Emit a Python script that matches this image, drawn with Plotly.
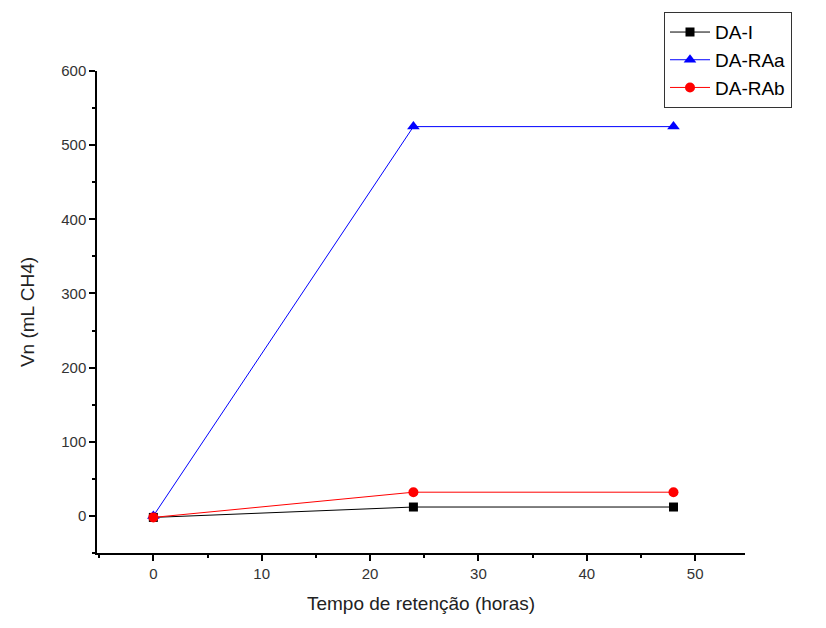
import plotly.graph_objects as go

tempo = [0, 24, 48]
da_i = [-2, 12, 12]
da_raa = [0, 525, 525]
da_rab = [-2, 32, 32]

fig = go.Figure()
fig.add_trace(go.Scatter(x=tempo, y=da_i, name="DA-I", mode="lines+markers",
                         line=dict(color="black", width=1),
                         marker=dict(symbol="square", size=9, color="black")))
fig.add_trace(go.Scatter(x=tempo, y=da_raa, name="DA-RAa", mode="lines+markers",
                         line=dict(color="blue", width=1),
                         marker=dict(symbol="triangle-up", size=11, color="blue")))
fig.add_trace(go.Scatter(x=tempo, y=da_rab, name="DA-RAb", mode="lines+markers",
                         line=dict(color="red", width=1),
                         marker=dict(symbol="circle", size=10, color="red")))

fig.update_layout(
    width=826, height=628,
    margin=dict(l=97, r=81, t=71, b=75),
    paper_bgcolor="white", plot_bgcolor="white",
    font=dict(family="Liberation Sans, Arial", color="#333", size=15),
    legend=dict(x=0.875, y=1.122, xanchor="left", yanchor="top",
                bordercolor="#333", borderwidth=1, bgcolor="white",
                font=dict(size=19, color="black"), tracegroupgap=0, itemwidth=40),
    showlegend=True,
)
fig.update_xaxes(range=[-5.2, 54.6], tickvals=[0, 10, 20, 30, 40, 50],
                 showgrid=False, zeroline=False, showline=True, linecolor="black", linewidth=1.5,
                 ticks="outside", ticklen=6, tickwidth=1.5, tickcolor="black",
                 minor=dict(tickvals=[-5, 5, 15, 25, 35, 45], ticks="outside", ticklen=3, tickwidth=1.5, tickcolor="black"),
                 title=dict(text="Tempo de retenção (horas)", font=dict(size=19, color="#222"), standoff=16))
fig.update_yaxes(range=[-50, 600], tickvals=[0, 100, 200, 300, 400, 500, 600],
                 showgrid=False, zeroline=False, showline=True, linecolor="black", linewidth=1.5,
                 ticks="outside", ticklen=6, tickwidth=1.5, tickcolor="black",
                 minor=dict(tickvals=[-50, 50, 150, 250, 350, 450, 550], ticks="outside", ticklen=3, tickwidth=1.5, tickcolor="black"),
                 title=dict(text="Vn (mL CH4)", font=dict(size=19, color="#222"), standoff=22))

fig.write_html("out.html")
